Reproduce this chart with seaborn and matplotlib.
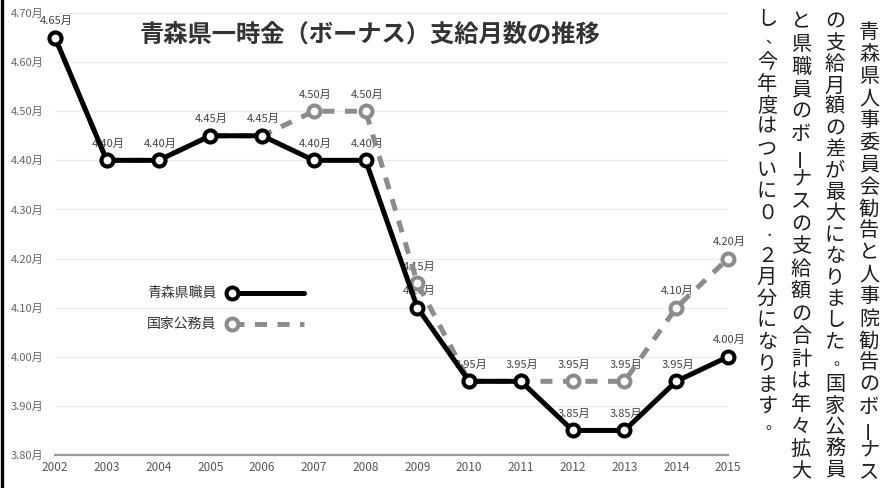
import matplotlib
matplotlib.use("Agg")
import matplotlib.pyplot as plt
import seaborn as sns
import pandas as pd
from matplotlib.lines import Line2D

# ---- data ----
years = [2002, 2003, 2004, 2005, 2006, 2007, 2008, 2009, 2010, 2011, 2012, 2013, 2014, 2015]
aomori = [4.65, 4.40, 4.40, 4.45, 4.45, 4.40, 4.40, 4.10, 3.95, 3.95, 3.85, 3.85, 3.95, 4.00]
national = [4.65, 4.40, 4.40, 4.45, 4.45, 4.50, 4.50, 4.15, 3.95, 3.95, 3.95, 3.95, 4.10, 4.20]
y_ticks = [3.80, 3.90, 4.00, 4.10, 4.20, 4.30, 4.40, 4.50, 4.60, 4.70]
series_names = ["青森県職員", "国家公務員"]
title = "青森県一時金（ボーナス）支給月数の推移"
note_columns = [
    "青森県人事委員会勧告と人事院勧告のボーナス",
    "の支給月額の差が最大になりました。国家公務員",
    "と県職員のボーナスの支給額の合計は年々拡大",
    "し、今年度はついに０．２月分になります。",
]

W, H = 884, 488
GRAY = "#8c8c8c"

sns.set_theme(style="white")
plt.rcParams["font.family"] = ["Noto Sans CJK JP", "DejaVu Sans"]

fig = plt.figure(figsize=(W / 100, H / 100), dpi=100)
fig.patch.set_facecolor("white")


def fx(x):
    return x / W


def fy(y):
    return 1 - y / H


ax = fig.add_axes([fx(55), fy(455), fx(728) - fx(55), fy(13) - fy(455)])
ax.set_facecolor("white")

df = pd.DataFrame({"year": years, "aomori": aomori, "national": national})

common = dict(marker="o", markersize=8.6, markerfacecolor="white",
              linewidth=3.6, clip_on=False, errorbar=None)

sns.lineplot(data=df, x="year", y="national", ax=ax, color=GRAY,
             linestyle=(0, (2.4, 2.1)), markeredgecolor=GRAY,
             markeredgewidth=2.9, zorder=3, **common)
sns.lineplot(data=df, x="year", y="aomori", ax=ax, color="black",
             markeredgecolor="black", markeredgewidth=2.9, zorder=4, **common)

# data labels
for yr, a, n in zip(years, aomori, national):
    ax.annotate(f"{a:.2f}月", (yr, a), xytext=(1, 12), textcoords="offset points",
                ha="center", va="center", fontsize=8, color="#444444", zorder=2.5)
    if abs(a - n) > 1e-9:
        ax.annotate(f"{n:.2f}月", (yr, n), xytext=(1, 12), textcoords="offset points",
                    ha="center", va="center", fontsize=8, color="#444444", zorder=2.5)

ax.set_xlim(2002, 2015)
ax.set_ylim(3.80, 4.70)
ax.set_xticks(years)
ax.set_xticklabels([str(y) for y in years])
ax.set_yticks(y_ticks)
ax.set_yticklabels([f"{t:.2f}月" for t in y_ticks])
ax.set_xlabel("")
ax.set_ylabel("")
ax.tick_params(axis="y", length=0, pad=8.5, labelsize=8, labelcolor="#666666")
ax.tick_params(axis="x", length=0, pad=4, labelsize=8.5, labelcolor="#555555")
ax.yaxis.grid(True, color="#ececec", linewidth=1)
ax.xaxis.grid(False)
ax.set_axisbelow(True)
for s in ["top", "right", "left"]:
    ax.spines[s].set_visible(False)
ax.spines["bottom"].set_color("#9a9a9a")
ax.spines["bottom"].set_linewidth(1.6)

# title
fig.text(fx(370), fy(35), title, ha="center", va="center", fontsize=17.5,
         fontweight="bold", color="#333333")

# manual legend
leg_rows = [(293, "black", "-"), (324, GRAY, (0, (2.4, 2.1)))]
for name, (ly, col, ls) in zip(series_names, leg_rows):
    fig.text(fx(216), fy(ly), name, ha="right", va="center", fontsize=10, color="#333333")
    fig.add_artist(Line2D([fx(232), fx(304)], [fy(ly), fy(ly)], transform=fig.transFigure,
                          color=col, linewidth=3.6, linestyle=ls, marker="o",
                          markevery=[0], markersize=8.6, markerfacecolor="white",
                          markeredgecolor=col, markeredgewidth=2.9))

# left border
fig.add_artist(Line2D([fx(1.5), fx(1.5)], [0, 1], transform=fig.transFigure,
                      color="black", linewidth=2.4))

# vertical note text
col_x = [869, 835, 801, 767]
col_start = [33, 22, 22, 20]
col_end = [473, 470, 472, 428]
for text, cx, y0, y1 in zip(note_columns, col_x, col_start, col_end):
    n = len(text)
    pitch = (y1 - y0) / (n - 1)
    for i, ch in enumerate(text):
        x, y = cx, y0 + i * pitch
        rot = 0
        size = 14.5
        if ch in "、。．":
            x += 6
            y -= 3
            size = 11
        if ch == "ー":
            rot = 90
        fig.text(fx(x), fy(y), ch, ha="center", va="center", fontsize=size,
                 color="#1e1e1e", rotation=rot)

fig.savefig("out.png", dpi=100, facecolor="white")
